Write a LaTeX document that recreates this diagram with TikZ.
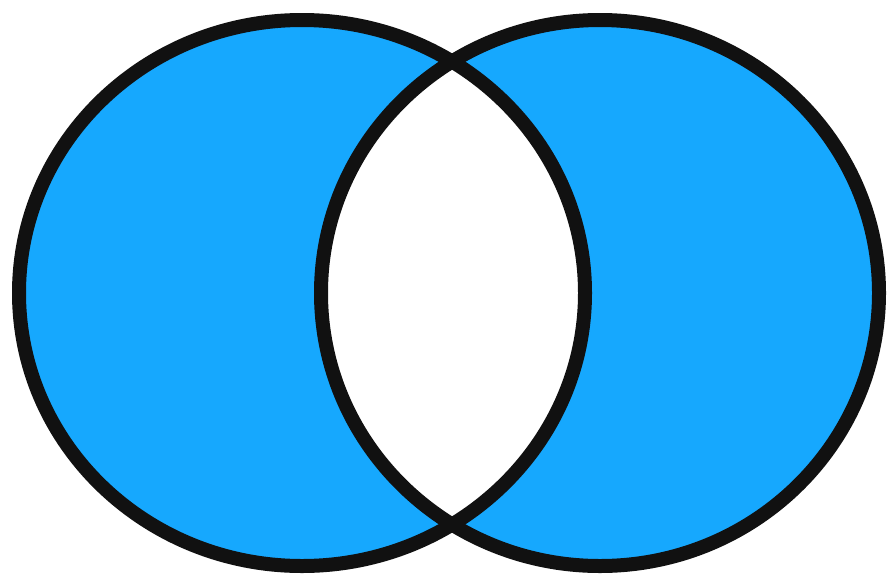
\documentclass[tikz,border=0pt]{standalone}
\definecolor{vennblue}{HTML}{16A8FE}
\definecolor{vennline}{HTML}{111111}
\begin{document}
\begin{tikzpicture}[x=1pt,y=-1pt,
  outline/.style={draw=vennline,line width=14pt}]
\useasboundingbox (0,0) rectangle (891,576);
\fill[white] (0,0) rectangle (891,576);
\fill[vennblue,even odd rule] (302,293) ellipse [x radius=283,y radius=273]
  (600,293) ellipse [x radius=279,y radius=273];
\draw[outline] (302,293) ellipse [x radius=283,y radius=273];
\draw[outline] (600,293) ellipse [x radius=279,y radius=273];
\end{tikzpicture}
\end{document}
